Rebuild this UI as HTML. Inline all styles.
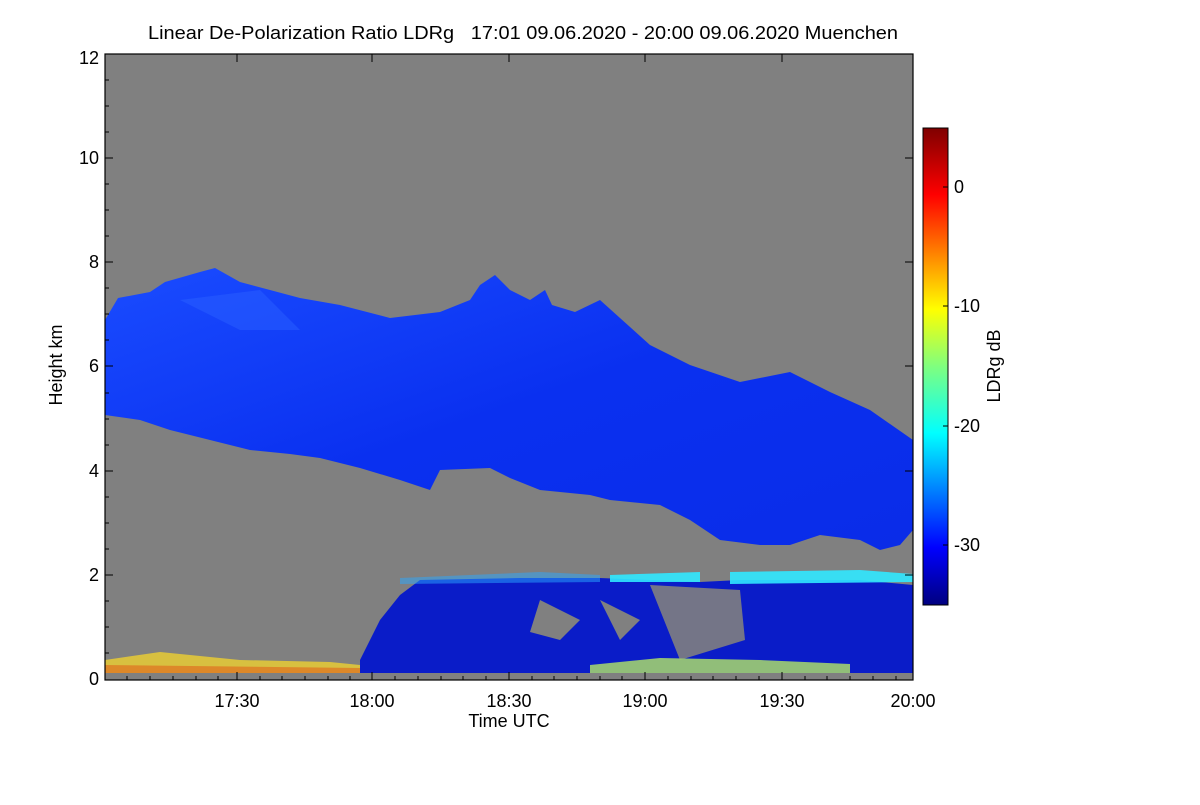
<!DOCTYPE html>
<html><head><meta charset="utf-8"><style>
body{margin:0;background:#fff}
svg text{font-family:"Liberation Sans",Arial,sans-serif;fill:#000}
</style></head><body>
<svg width="1200" height="800" viewBox="0 0 1200 800" xmlns="http://www.w3.org/2000/svg">
<defs>
<linearGradient id="cb" x1="0" y1="1" x2="0" y2="0">
<stop offset="0" stop-color="#00007f"/>
<stop offset="0.12" stop-color="#0000ff"/>
<stop offset="0.36" stop-color="#00ffff"/>
<stop offset="0.5" stop-color="#7fff7f"/>
<stop offset="0.62" stop-color="#ffff00"/>
<stop offset="0.86" stop-color="#ff0000"/>
<stop offset="1" stop-color="#7f0000"/>
</linearGradient>
<linearGradient id="cl" x1="0" y1="0" x2="1" y2="1">
<stop offset="0" stop-color="#1a4cff"/>
<stop offset="0.5" stop-color="#0a30f0"/>
<stop offset="1" stop-color="#0a2ce8"/>
</linearGradient>
</defs>
<text x="148" y="39" font-size="18" textLength="750" lengthAdjust="spacingAndGlyphs" xml:space="preserve">Linear De-Polarization Ratio LDRg   17:01 09.06.2020 - 20:00 09.06.2020 Muenchen</text>
<rect x="105" y="54" width="808" height="626" fill="#808080"/>
<path d="M105,320 L118,298 L150,292 L165,282 L200,272 L215,268 L240,282 L270,290 L300,298 L340,305 L390,318 L440,312 L470,300 L480,285 L495,275 L510,290 L530,300 L545,290 L552,305 L575,312 L600,300 L620,318 L650,345 L690,365 L740,382 L790,372 L830,392 L870,410 L913,440 L913,530 L900,545 L880,550 L860,540 L820,535 L790,545 L760,545 L720,540 L690,520 L660,505 L610,500 L590,495 L540,490 L510,478 L490,468 L440,470 L430,490 L400,480 L360,468 L320,458 L290,454 L250,450 L210,440 L170,430 L140,420 L105,415 Z" fill="url(#cl)"/>
<path d="M180,300 L260,290 L300,330 L240,330 Z" fill="#2a60ff" opacity="0.5"/>
<path d="M360,660 L380,620 L400,595 L420,580 L520,578 L600,578 L650,580 L700,582 L740,580 L800,580 L860,580 L913,585 L913,673 L360,673 Z" fill="#0a1cc8"/>
<path d="M540,600 L580,620 L560,640 L530,632 Z M600,600 L640,620 L620,640 Z" fill="#808080"/>
<path d="M650,585 L680,660 L745,640 L740,590 Z" fill="#808080" opacity="0.9"/>
<path d="M610,575 L700,572 L700,582 L610,582 Z M730,572 L860,570 L913,574 L913,582 L730,584 Z" fill="#30e8ff" opacity="0.9"/>
<path d="M400,578 L540,572 L600,575 L600,582 L400,584 Z" fill="#2aa8ff" opacity="0.5"/>
<path d="M105,660 L160,652 L240,660 L330,662 L360,665 L360,673 L105,673 Z" fill="#d8c040"/>
<path d="M105,665 L360,668 L360,673 L105,673 Z" fill="#e07020" opacity="0.7"/>
<path d="M590,665 L660,658 L760,660 L850,664 L850,673 L590,673 Z" fill="#a0d070" opacity="0.9"/>
<rect x="105" y="54" width="808" height="626" fill="none" stroke="#000" stroke-width="1.2"/>
<g stroke="#000" stroke-width="1">
<path d="M237,680v-8M372,680v-8M509,680v-8M645,680v-8M782,680v-8M913,680v-8M237,54v8M372,54v8M509,54v8M645,54v8M782,54v8"/>
<path d="M127,680v-4M150,680v-4M173,680v-4M196,680v-4M218,680v-4M260,680v-4M282,680v-4M305,680v-4M328,680v-4M350,680v-4M395,680v-4M418,680v-4M441,680v-4M463,680v-4M486,680v-4M532,680v-4M554,680v-4M577,680v-4M600,680v-4M622,680v-4M668,680v-4M691,680v-4M713,680v-4M736,680v-4M759,680v-4M805,680v-4M827,680v-4M850,680v-4M873,680v-4M896,680v-4"/>
<path d="M105,575h8M105,471h8M105,366h8M105,262h8M105,158h8M913,575h-8M913,471h-8M913,366h-8M913,262h-8M913,158h-8"/>
<path d="M105,653h4M105,627h4M105,601h4M105,549h4M105,523h4M105,497h4M105,445h4M105,419h4M105,393h4M105,340h4M105,314h4M105,288h4M105,236h4M105,210h4M105,184h4M105,132h4M105,106h4M105,80h4"/>
</g>
<g font-size="18" text-anchor="end">
<text x="99" y="685">0</text><text x="99" y="581">2</text><text x="99" y="477">4</text><text x="99" y="372">6</text><text x="99" y="268">8</text><text x="99" y="164">10</text><text x="99" y="64">12</text>
</g>
<g font-size="18" text-anchor="middle">
<text x="237" y="707">17:30</text><text x="372" y="707">18:00</text><text x="509" y="707">18:30</text><text x="645" y="707">19:00</text><text x="782" y="707">19:30</text><text x="913" y="707">20:00</text>
<text x="509" y="727">Time UTC</text>
</g>
<text transform="translate(62,365) rotate(-90)" font-size="18" text-anchor="middle">Height km</text>
<rect x="923" y="128" width="25" height="477" fill="url(#cb)" stroke="#000" stroke-width="1"/>
<g stroke="#000"><path d="M948,187h-5M948,306h-5M948,426h-5M948,545h-5"/></g>
<g font-size="18"><text x="954" y="193">0</text><text x="954" y="312">-10</text><text x="954" y="432">-20</text><text x="954" y="551">-30</text></g>
<text transform="translate(1000,366) rotate(-90)" font-size="18" text-anchor="middle">LDRg dB</text>
</svg>
</body></html>
